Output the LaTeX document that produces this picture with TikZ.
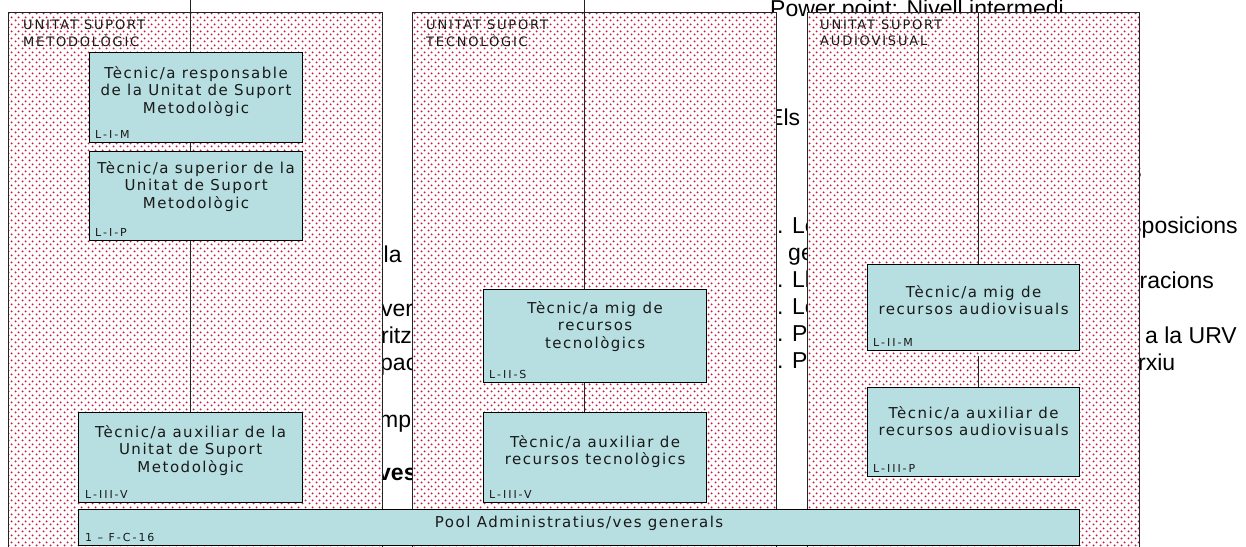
\documentclass[tikz,border=0pt]{standalone}
\usepackage{fontspec}
\setmainfont{Liberation Sans}
\newfontfamily\boxfont[LetterSpace=10]{DejaVu Sans}
\newfontfamily\tagfont[LetterSpace=18]{DejaVu Sans}
\newfontfamily\unitfont[LetterSpace=14]{DejaVu Sans}
\usetikzlibrary{patterns,calc}

\definecolor{dotred}{RGB}{200,25,65}
\definecolor{boxfill}{RGB}{183,222,224}
\definecolor{edge}{RGB}{35,35,35}

% staggered red dot screen used inside the unit panels
\pgfdeclarepatternformonly{reddots}{\pgfpointorigin}{\pgfpoint{7pt}{7pt}}{\pgfpoint{7pt}{7pt}}{%
  \pgfpathcircle{\pgfpoint{1.75pt}{1.75pt}}{1.15pt}%
  \pgfpathcircle{\pgfpoint{5.25pt}{5.25pt}}{1.15pt}%
  \pgfusepath{fill}}

% stack of lines whose baseline is the first line
\newcommand{\stacklines}[1]{\begin{tabular}[t]{@{}c@{}}#1\end{tabular}}
\newcommand{\stackleft}[1]{\begin{tabular}[t]{@{}l@{}}#1\end{tabular}}

\tikzset{
  bgtext/.style={anchor=base west, inner sep=0pt, font=\fontsize{23}{27}\selectfont},
  panel/.style={draw=edge, line width=1pt, preaction={fill=white},
    pattern=reddots, pattern color=dotred, anchor=north west, inner sep=0pt},
  unitname/.style={anchor=base west, inner sep=0pt, text=black!90,
    font=\unitfont\fontsize{13}{16}\selectfont\renewcommand{\arraystretch}{1}},
  postbox/.style={draw=black, line width=1.2pt, fill=boxfill, anchor=north west, inner sep=0pt},
  posttext/.style={anchor=base, inner sep=0pt, text=black!90,
    font=\boxfont\fontsize{15}{17.5}\selectfont\renewcommand{\arraystretch}{1}},
  posttag/.style={anchor=base west, inner sep=0pt, text=black!90,
    font=\tagfont\fontsize{11}{12}\selectfont},
  link/.style={draw=edge, line width=1pt}
}

\begin{document}
\begin{tikzpicture}[x=1pt, y=-1pt]
\useasboundingbox (0,0) rectangle (1246,546);
\clip (0,0) rectangle (1246,546);

% running text of the page underneath the chart
\node[bgtext] (w1) at (770,16.5) {Power point: Nivell intermedi};
\node[bgtext] (w2) at (768,125) {Els};
\node[bgtext] (w3) at (777,233) {. Le};
\node[bgtext] (w4) at (788,260) {ge};
\node[bgtext] (w5) at (777,287) {. Ll};
\node[bgtext] (w6) at (777,314) {. Le};
\node[bgtext] (w7) at (777,341) {. P};
\node[bgtext] (w8) at (777,368) {. P};
\node[bgtext] (w9) at (1130,178) {s};
\node[bgtext] (w10) at (1130,233) {sposicions};
\node[bgtext] (w11) at (1139.5,288) {racions};
\node[bgtext] (w12) at (1145,343) {a la URV};
\node[bgtext] (w13) at (1138,370) {rxiu};
\node[bgtext] (w14) at (383.5,262) {la};
\node[bgtext] (w15) at (381,316) {ver};
\node[bgtext] (w16) at (381,343) {ritz};
\node[bgtext] (w17) at (380,370) {pac};
\node[bgtext] (w18) at (379,427) {mp};
\node[bgtext, font=\fontsize{23}{27}\selectfont\bfseries] (w19) at (378,480) {ves};

% unit panels
\node[panel, minimum width=374pt, minimum height=600pt] (P1) at (8,12) {};
\node[panel, minimum width=364pt, minimum height=600pt] (P2) at (412,12) {};
\node[panel, minimum width=332pt, minimum height=600pt] (P3) at (807,12) {};

\node[unitname] (U1) at ($(P1.north west)+(15,17.5)$) {\stackleft{UNITAT SUPORT\\METODOLÒGIC}};
\node[unitname] (U2) at ($(P2.north west)+(14,17.5)$) {\stackleft{UNITAT SUPORT\\TECNOLÒGIC}};
\node[unitname] (U3) at ($(P3.north west)+(13,17.5)$) {\stackleft{UNITAT SUPORT\\AUDIOVISUAL}};

% posts
\node[postbox, minimum width=213pt, minimum height=90pt] (A) at (89,52) {};
\node[postbox, minimum width=213pt, minimum height=89pt] (B) at (89,151) {};
\node[postbox, minimum width=224pt, minimum height=90pt] (C) at (78,412) {};
\node[postbox, minimum width=223pt, minimum height=93pt] (M2) at (483,289) {};
\node[postbox, minimum width=223pt, minimum height=90pt] (X2) at (483,412) {};
\node[postbox, minimum width=212pt, minimum height=86pt] (M3) at (867,264) {};
\node[postbox, minimum width=212pt, minimum height=89pt] (X3) at (867,387) {};
\node[postbox, minimum width=1001pt, minimum height=36pt] (Pool) at (78,509) {};

% reporting lines
\coordinate (t1) at (190,0);
\coordinate (t2) at (584,0);
\coordinate (t3) at (978,0);
\draw[link] (t1) -- (t1 |- A.north);
\draw[link] (t1 |- A.south) -- (t1 |- B.north);
\draw[link] (t1 |- B.south) -- (t1 |- C.north);
\draw[link] (t2) -- (t2 |- M2.north);
\draw[link] (t2 |- M2.south) -- (t2 |- X2.north);
\draw[link] (t3 |- P3.north) -- (t3 |- M3.north);
\draw[link] ($(t3 |- M3.south)+(0,5)$) -- (t3 |- X3.north);

% post titles
\node[posttext] (At) at ($(A.north)+(0,26)$) {\stacklines{Tècnic/a responsable\\de la Unitat de Suport\\Metodològic}};
\node[posttext] (Bt) at ($(B.north)+(0,22)$) {\stacklines{Tècnic/a superior de la\\Unitat de Suport\\Metodològic}};
\node[posttext] (Ct) at ($(C.north)+(0,25)$) {\stacklines{Tècnic/a auxiliar de la\\Unitat de Suport\\Metodològic}};
\node[posttext] (M2t) at ($(M2.north)+(0,24)$) {\stacklines{Tècnic/a mig de\\recursos\\tecnològics}};
\node[posttext] (X2t) at ($(X2.north)+(0,35)$) {\stacklines{Tècnic/a auxiliar de\\recursos tecnològics}};
\node[posttext] (M3t) at ($(M3.north)+(0,33)$) {\stacklines{Tècnic/a mig de\\recursos audiovisuals}};
\node[posttext] (X3t) at ($(X3.north)+(0,31)$) {\stacklines{Tècnic/a auxiliar de\\recursos audiovisuals}};
\node[posttext] (Poolt) at ($(Pool.north)+(0,18)$) {Pool Administratius/ves generals};

% post codes
\node[posttag] (Ag) at ($(A.south west)+(6,-5)$) {L-I-M};
\node[posttag] (Bg) at ($(B.south west)+(6,-5)$) {L-I-P};
\node[posttag] (Cg) at ($(C.south west)+(7,-5)$) {L-III-V};
\node[posttag] (M2g) at ($(M2.south west)+(6,-5)$) {L-II-S};
\node[posttag] (X2g) at ($(X2.south west)+(6,-5)$) {L-III-V};
\node[posttag] (M3g) at ($(M3.south west)+(6,-5)$) {L-II-M};
\node[posttag] (X3g) at ($(X3.south west)+(6,-5)$) {L-III-P};
\node[posttag] (Poolg) at ($(Pool.south west)+(7,-5)$) {1 – F-C-16};
\end{tikzpicture}
\end{document}
